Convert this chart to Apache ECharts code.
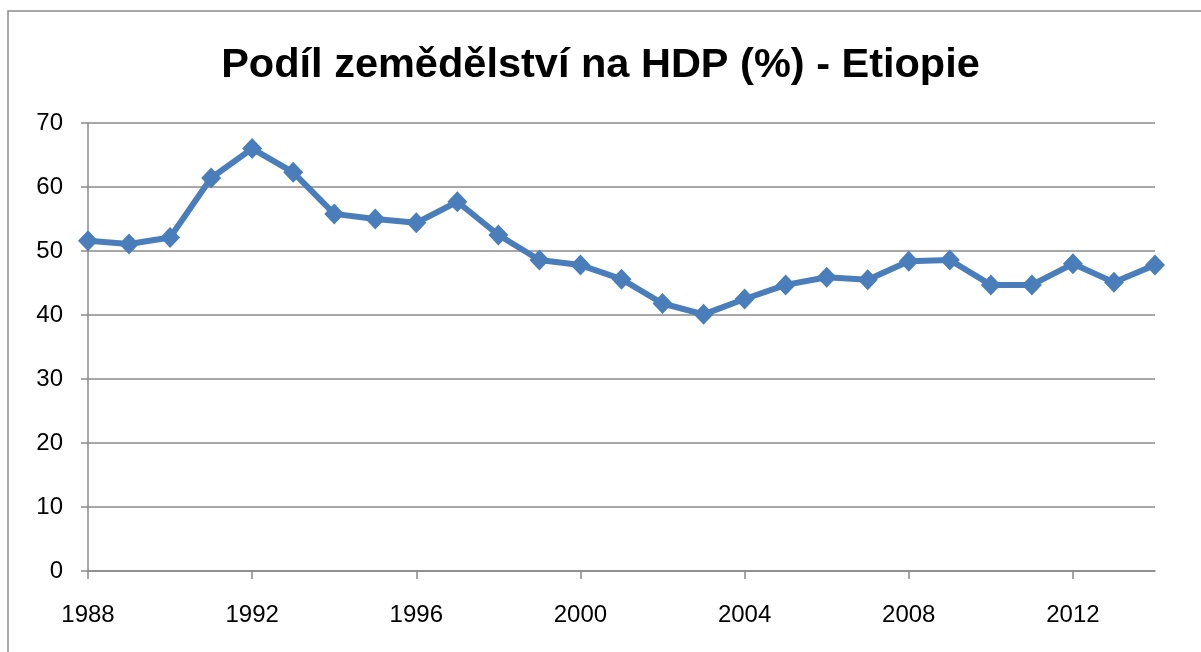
<!DOCTYPE html>
<html>
<head>
<meta charset="utf-8">
<script src="https://cdn.jsdelivr.net/npm/echarts@6/dist/echarts.min.js"></script>
<style>
  html, body { margin: 0; padding: 0; background: #fff; }
  #chart { width: 1201px; height: 652px; }
</style>
</head>
<body>
<div id="chart"></div>
<script>
// roky a podíl zemědělství na HDP
var years = ['1988','1989','1990','1991','1992','1993','1994','1995','1996','1997',
  '1998','1999','2000','2001','2002','2003','2004','2005','2006','2007',
  '2008','2009','2010','2011','2012','2013','2014'];
var agriShare = [51.6, 51.1, 52.1, 61.4, 66.0, 62.3, 55.8, 55.0, 54.4, 57.7,
  52.5, 48.6, 47.8, 45.6, 41.8, 40.1, 42.5, 44.7, 45.9, 45.5,
  48.4, 48.6, 44.7, 44.7, 48.0, 45.1, 47.8];
var chartTitle = 'Podíl zemědělství na HDP (%) - Etiopie';

var gray = '#8a8a8a';
var font = 'Liberation Sans';

var myChart = echarts.init(document.getElementById('chart'));
var option = {
  animation: false,
  title: {
    text: chartTitle,
    left: 'center',
    top: 40,
    textStyle: { fontFamily: font, fontWeight: 'bold', fontSize: 41.5, color: '#000' }
  },
  graphic: [{
    type: 'rect',
    shape: { x: 8, y: 11, width: 1300, height: 800 },
    style: { fill: null, stroke: gray, lineWidth: 1.5 }
  }],
  grid: { left: 88, right: 46, top: 123, bottom: 81 },
  xAxis: {
    type: 'category',
    data: years,
    boundaryGap: false,
    axisLine: { lineStyle: { color: gray, width: 1.5 } },
    axisTick: { show: true, interval: 3, length: 8, lineStyle: { color: gray, width: 1.5 } },
    axisLabel: { interval: 3, margin: 32, fontFamily: font, fontSize: 24, color: '#000' },
    splitLine: { show: false }
  },
  yAxis: {
    type: 'value',
    min: 0,
    max: 70,
    interval: 10,
    axisLine: { show: true, lineStyle: { color: gray, width: 1.5 } },
    axisTick: { show: true, length: 7, lineStyle: { color: gray, width: 1.5 } },
    axisLabel: { margin: 25, fontFamily: font, fontSize: 24, color: '#000' },
    splitLine: { lineStyle: { color: gray, width: 1.5 } }
  },
  series: [{
    type: 'line',
    data: agriShare,
    symbol: 'diamond',
    symbolSize: [20, 21],
    lineStyle: { color: '#4a7ebb', width: 6 },
    itemStyle: { color: '#4a7ebb' }
  }]
};
myChart.setOption(option);
</script>
</body>
</html>
